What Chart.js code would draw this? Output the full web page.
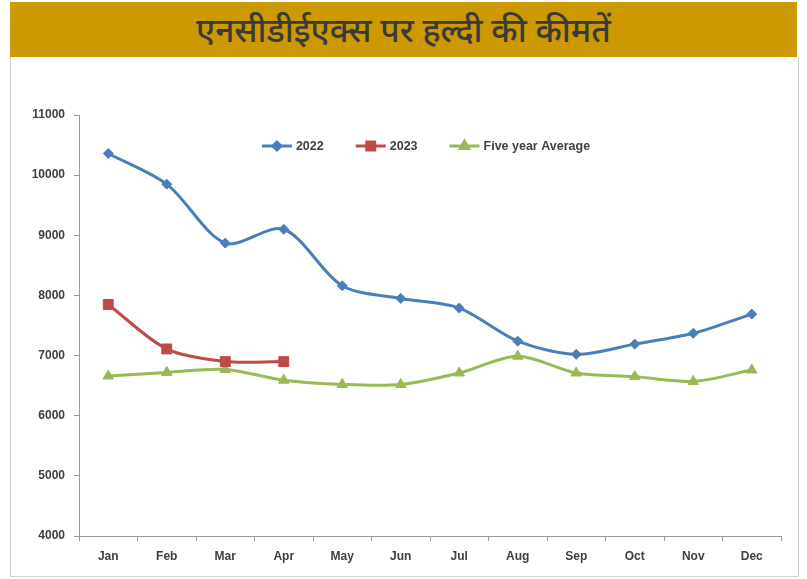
<!DOCTYPE html>
<html>
<head>
<meta charset="utf-8">
<script src="https://cdn.jsdelivr.net/npm/chart.js@4.4.0/dist/chart.umd.min.js"></script>
<style>
body { margin: 0; width: 807px; height: 579px; background: #fff; overflow: hidden; position: relative; }
#banner {
    position: absolute; left: 10px; top: 2px; width: 787px; height: 55px;
    background: #cc9900; color: #3a3a3a; text-align: center;
    font-family: 'Noto Sans Devanagari', 'Lohit Devanagari', 'Noto Sans', sans-serif;
    font-size: 33.5px; line-height: 64px; font-weight: 500;
}
#panel {
    position: absolute; left: 10px; top: 57px; width: 787px; height: 519px;
    border: 1px solid #cfcfcf; border-top: none; background: #fff;
}
#chart { position: absolute; left: 0; top: 0; }
</style>
</head>
<body>
<div id="banner">एनसीडीईएक्स पर हल्दी की कीमतें</div>
<div id="panel"></div>
<canvas id="chart" width="807" height="579"></canvas>
<script>
const months = ['Jan', 'Feb', 'Mar', 'Apr', 'May', 'Jun', 'Jul', 'Aug', 'Sep', 'Oct', 'Nov', 'Dec'];
const prices2022 = [10360, 9850, 8870, 9100, 8160, 7950, 7790, 7240, 7020, 7190, 7370, 7690];
const prices2023 = [7850, 7110, 6900, 6900];
const fiveYearAvg = [6660, 6720, 6770, 6590, 6520, 6520, 6710, 6990, 6710, 6650, 6570, 6760];
const yTicks = [4000, 5000, 6000, 7000, 8000, 9000, 10000, 11000];

const axisFont = { family: "'Liberation Sans', Arial, sans-serif", size: 12, weight: 'bold' };

// legend drawn Excel-style: short line with the marker on it, then the label
const lineLegend = {
    id: 'lineLegend',
    afterDraw(chart) {
        const ctx = chart.ctx;
        ctx.save();
        ctx.font = "bold 12.5px 'Liberation Sans', Arial, sans-serif";
        ctx.textBaseline = 'middle';
        const sets = chart.data.datasets;
        const lineLen = 30, gap = 4, between = 32;
        const widths = sets.map(ds => lineLen + gap + ctx.measureText(ds.label).width);
        const total = widths.reduce((a, b) => a + b, 0) + between * (sets.length - 1);
        let x = 426 - total / 2;
        const y = 146;
        sets.forEach((ds, i) => {
            ctx.strokeStyle = ds.borderColor;
            ctx.lineWidth = 3;
            ctx.beginPath();
            ctx.moveTo(x, y);
            ctx.lineTo(x + lineLen, y);
            ctx.stroke();
            ctx.fillStyle = ds.pointBackgroundColor;
            ctx.strokeStyle = ds.borderColor;
            Chart.helpers.drawPoint(ctx, {
                pointStyle: ds.pointStyle, radius: ds.pointRadius * 0.8, rotation: 0, borderWidth: 1
            }, x + lineLen / 2, y);
            ctx.fillStyle = '#404040';
            ctx.fillText(ds.label, x + lineLen + gap, y + 1);
            x += widths[i] + between;
        });
        ctx.restore();
    }
};

new Chart(document.getElementById('chart'), {
    type: 'line',
    data: {
        labels: months,
        datasets: [
            {
                label: '2022', data: prices2022,
                borderColor: '#4a7ebb', backgroundColor: '#4a7ebb', pointBackgroundColor: '#4a7ebb',
                borderWidth: 3, tension: 0.3, pointStyle: 'rectRot', pointRadius: 5, pointBorderWidth: 1
            },
            {
                label: '2023', data: prices2023,
                borderColor: '#be4b48', backgroundColor: '#be4b48', pointBackgroundColor: '#be4b48',
                borderWidth: 3, tension: 0.3, pointStyle: 'rect', pointRadius: 7, pointBorderWidth: 1
            },
            {
                label: 'Five year Average', data: fiveYearAvg,
                borderColor: '#98b954', backgroundColor: '#98b954', pointBackgroundColor: '#98b954',
                borderWidth: 3, tension: 0.3, pointStyle: 'triangle', pointRadius: 6, pointBorderWidth: 1
            }
        ]
    },
    options: {
        responsive: false,
        animation: false,
        layout: { padding: { top: 115, right: 26, left: 0, bottom: 0 } },
        plugins: { legend: { display: false }, tooltip: { enabled: false } },
        scales: {
            x: {
                offset: true,
                grid: { offset: true, drawOnChartArea: false, drawTicks: true, tickLength: 5, color: '#9a9a9a' },
                border: { color: '#9a9a9a', width: 1 },
                ticks: { font: axisFont, color: '#404040', padding: 8 },
                afterFit(s) { s.height = 43; }
            },
            y: {
                min: 4000, max: 11000,
                afterBuildTicks(s) { s.ticks = yTicks.map(v => ({ value: v })); },
                grid: { drawOnChartArea: false, drawTicks: true, tickLength: 5, color: '#9a9a9a' },
                border: { color: '#9a9a9a', width: 1 },
                ticks: { font: axisFont, color: '#404040', padding: 9, callback: v => String(v) },
                afterFit(s) { s.width = 79; }
            }
        }
    },
    plugins: [lineLegend]
});
</script>
</body>
</html>
